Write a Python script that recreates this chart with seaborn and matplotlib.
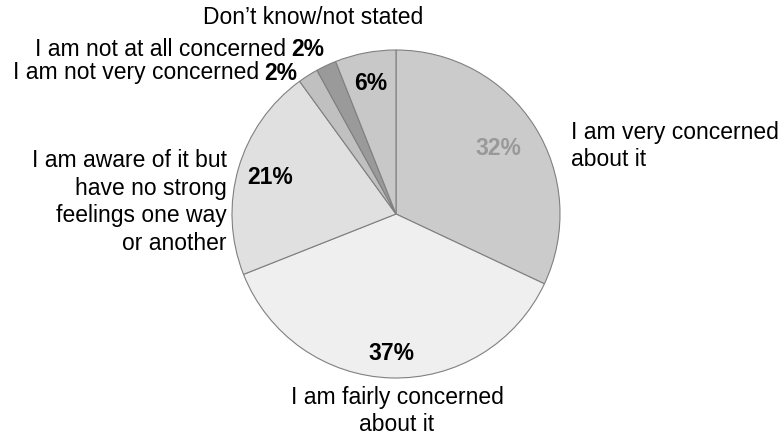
import matplotlib
matplotlib.use("Agg")
import matplotlib.pyplot as plt
import seaborn as sns
import numpy as np

sns.set_theme(style="white")
plt.rcParams['font.family'] = ['Liberation Sans', 'DejaVu Sans']
plt.rcParams['text.color'] = 'black'

categories = ["I am very concerned\nabout it",
              "I am fairly concerned\nabout it",
              "I am aware of it but\nhave no strong\nfeelings one way\nor another",
              "I am not very concerned",
              "I am not at all concerned",
              "Don\u2019t know/not stated"]
values = [32, 37, 21, 2, 2, 6]
pct_labels = ["32%", "37%", "21%", "2%", "2%", "6%"]
colors = ["#cbcbcb", "#efefef", "#e0e0e0", "#c0c0c0", "#9a9a9a", "#c8c8c8"]

W, H = 784, 438
fig = plt.figure(figsize=(W / 100, H / 100), dpi=100)
ax = fig.add_axes([0, 0, 1, 1])

cx, cy, r = 396, H - 214, 164
wedges, _ = ax.pie(values, colors=colors, startangle=90, counterclock=False,
                   center=(cx, cy), radius=r, frame=True,
                   wedgeprops=dict(edgecolor="#808080", linewidth=0.8))
ax.set_xlim(0, W)
ax.set_ylim(0, H)
ax.set_aspect("equal")
ax.axis("off")

fs = 16.5
# percentage labels inside
pct_dist = [0.74, 0.85, 0.80, None, None, 0.81]
pct_col = ["#999999", "black", "black", None, None, "black"]
cum = np.cumsum([0] + values)
for i, v in enumerate(values):
    if pct_dist[i] is None:
        continue
    mid = 90 - (cum[i] + v / 2) * 3.6
    a = np.deg2rad(mid)
    ax.text(cx + pct_dist[i] * r * np.cos(a), cy + pct_dist[i] * r * np.sin(a),
            pct_labels[i], ha="center", va="center", fontsize=fs,
            fontweight="bold", color=pct_col[i])

# outer category labels
ax.text(571, H - 146, categories[0], ha="left", va="center", fontsize=fs,
        linespacing=1.25)
ax.text(397, H - 411, categories[1], ha="center", va="center", fontsize=fs,
        linespacing=1.25, multialignment="center")
ax.text(227, H - 202, categories[2], ha="right", va="center", fontsize=fs,
        linespacing=1.25, multialignment="right")
ax.text(313, H - 18, categories[5], ha="center", va="center", fontsize=fs)

for lab, pct, x0, y0 in [(categories[4], pct_labels[4], 35, 50),
                         (categories[3], pct_labels[3], 13, 73)]:
    t = ax.text(x0, H - y0, lab, ha="left", va="center", fontsize=fs)
    ax.annotate(pct, xy=(1, 0.5), xycoords=t, xytext=(4, 0),
                textcoords="offset points", ha="left", va="center",
                fontsize=fs, fontweight="bold")

fig.savefig("out.png", dpi=100, facecolor="white")
